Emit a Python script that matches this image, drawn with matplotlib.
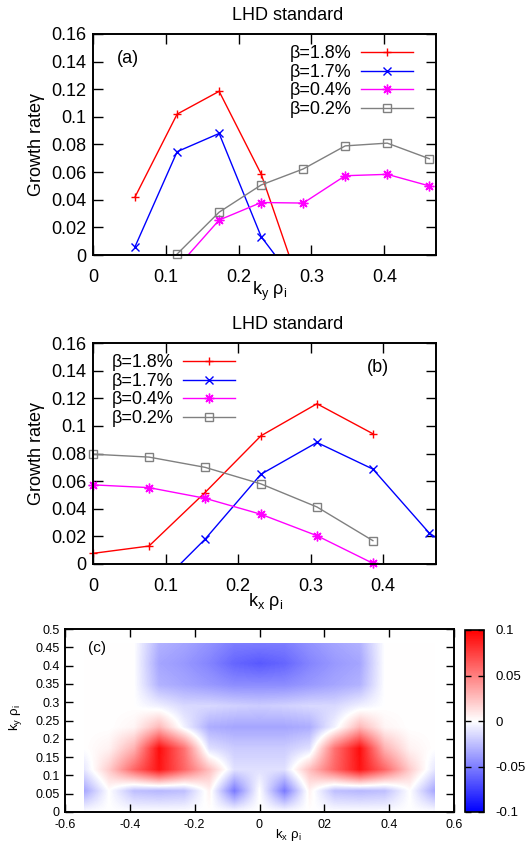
import numpy as np
import matplotlib
matplotlib.use("Agg")
import matplotlib.pyplot as plt
from matplotlib.patches import Rectangle

plt.rcParams["font.family"] = ["Liberation Sans", "DejaVu Sans"]
plt.rcParams["mathtext.fontset"] = "custom"
plt.rcParams["mathtext.rm"] = "Liberation Sans"

nan = np.nan

# ---- panel (a): growth rate vs ky rho_i ----
ky_a = [0.0577, 0.1155, 0.1732, 0.2309, 0.2887, 0.3464, 0.4041, 0.4619]
a_18 = [0.042, 0.102, 0.1185, 0.0586, -0.030, nan, nan, nan]
a_17 = [0.006, 0.0748, 0.088, 0.0133, -0.027, nan, nan, nan]
a_04 = [nan, -0.009, 0.0253, 0.038, 0.0376, 0.0574, 0.0584, 0.050]
a_02 = [nan, 0.0007, 0.031, 0.0507, 0.0623, 0.079, 0.081, 0.0697]

# ---- panel (b): growth rate vs kx rho_i ----
kx_b = [0.0, 0.0772, 0.1544, 0.2316, 0.3088, 0.386, 0.4632, 0.5404]
b_18 = [0.0077, 0.013, 0.0517, 0.0928, 0.116, 0.0943, nan, nan]
b_17 = [nan, -0.0226, 0.0179, 0.065, 0.088, 0.0687, 0.0227, -0.006]
b_04 = [0.0573, 0.0553, 0.0476, 0.036, 0.0205, 0.0005, nan, nan]
b_02 = [0.0795, 0.0774, 0.070, 0.058, 0.0413, 0.0169, nan, nan]

labels = ["β=1.8%", "β=1.7%", "β=0.4%", "β=0.2%"]
colors = ["#ff0000", "#0000ff", "#ff00ff", "#808080"]
markers = ["+", "x", (8, 2, 0), "s"]
msizes = [6, 6, 7, 6]

# ---- panel (c): growth-rate map, kx >= 0 half (map is symmetric in kx) ----
kx_c = [0.0, 0.0772, 0.1544, 0.2316, 0.3088, 0.386, 0.4632, 0.5404]
ky_c = [0.0, 0.0577, 0.1155, 0.1732, 0.2309, 0.2887, 0.3464, 0.4041, 0.4619]
z_half = [
    [0.0, 0.0, 0.0, 0.0, 0.0, 0.0, 0.0, 0.0],
    [0.0, -0.052, 0.005, -0.025, -0.028, -0.025, 0.0, -0.035],
    [-0.012, -0.012, 0.025, 0.06, 0.092, 0.06, 0.02, -0.01],
    [-0.02, -0.02, -0.012, 0.055, 0.095, 0.03, 0.005, 0.0],
    [-0.035, -0.035, -0.032, -0.005, 0.028, 0.004, 0.0, 0.0],
    [-0.02, -0.018, -0.015, -0.015, -0.006, 0.0, 0.0, 0.0],
    [-0.045, -0.045, -0.04, -0.035, -0.03, 0.0, 0.0, 0.0],
    [-0.065, -0.06, -0.048, -0.04, -0.035, 0.0, 0.0, 0.0],
    [-0.05, -0.05, -0.042, -0.035, -0.03, 0.0, 0.0, 0.0],
]

W, H = 527, 848
fig = plt.figure(figsize=(W / 100, H / 100), dpi=100)


def px_axes(x0, y0, x1, y1):
    return fig.add_axes([x0 / W, 1 - y1 / H, (x1 - x0) / W, (y1 - y0) / H])


def style_axes(ax, size, pad_x, pad_y):
    for s in ax.spines.values():
        s.set_linewidth(1.4)
    ax.tick_params(direction="in", top=True, right=True, length=7, width=1.0,
                   labelsize=size)
    ax.tick_params(axis="x", pad=pad_x)
    ax.tick_params(axis="y", pad=pad_y)


def growth_panel(ax, xs, series, xmax, tag, tag_xy, leg_anchor):
    xs = np.asarray(xs)
    handles = []
    for ys, lab, c, m, ms in zip(series, labels, colors, markers, msizes):
        ys = np.asarray(ys, dtype=float)
        ax.plot(xs, ys, color=c, lw=1.0)
        keep = (ys >= 0) & (xs <= xmax)
        ax.plot(xs[keep], ys[keep], ls="none", marker=m, ms=ms, mew=1.0,
                color=c, mfc="none", clip_on=False)
        h, = ax.plot([], [], color=c, lw=1.0, marker=m, ms=ms, mew=1.0, mfc="none")
        handles.append(h)
    ax.set_xlim(0, xmax)
    ax.set_ylim(0, 0.16)
    ax.set_xticks([0, 0.1, 0.2, 0.3, 0.4], ["0", "0.1", "0.2", "0.3", "0.4"])
    ax.set_yticks(np.arange(9) * 0.02,
                  ["0", "0.02", "0.04", "0.06", "0.08", "0.1", "0.12", "0.14", "0.16"])
    style_axes(ax, 13, 10, 5)
    ax.set_ylabel("Growth rateγ", fontsize=13, labelpad=4)
    ax.text(tag_xy[0], tag_xy[1], tag, transform=ax.transAxes, fontsize=13,
            ha="center", va="center")
    ax.legend(handles, labels, loc="upper right", bbox_to_anchor=leg_anchor,
              markerfirst=False, frameon=False, fontsize=13, handlelength=2.9,
              handletextpad=0.5, labelspacing=0.08, borderpad=0, borderaxespad=0)


ax_a = px_axes(93, 34, 436, 255)
growth_panel(ax_a, ky_a, [a_18, a_17, a_04, a_02], 0.471, "(a)",
             (0.102, 0.891), (0.933, 0.948))
fig.text(288 / W, 1 - 16 / H, "LHD standard", ha="center", va="center", fontsize=13)
fig.text(270 / W, 1 - 291 / H, r"k$_\mathregular{y}$ ρ$_\mathregular{i}$",
         ha="center", va="center", fontsize=13)

ax_b = px_axes(93, 343, 436, 564)
growth_panel(ax_b, kx_b, [b_18, b_17, b_04, b_02], 0.473, "(b)",
             (0.831, 0.891), (0.414, 0.948))
fig.text(288 / W, 1 - 325 / H, "LHD standard", ha="center", va="center", fontsize=13)
fig.text(266 / W, 1 - 602 / H, r"k$_\mathregular{x}$ ρ$_\mathregular{i}$",
         ha="center", va="center", fontsize=13)

# ---- panel (c) ----
kx_full = np.concatenate([-np.asarray(kx_c)[:0:-1], kx_c])
z_half = np.asarray(z_half)
z_full = np.hstack([z_half[:, :0:-1], z_half])
dx = kx_c[1] - kx_c[0]
dy = ky_c[1] - ky_c[0]

ax_c = px_axes(65, 629, 454, 812)
img = ax_c.imshow(z_full, origin="lower", cmap="bwr", vmin=-0.1, vmax=0.1,
                  interpolation="bilinear", aspect="auto",
                  extent=[kx_full[0] - dx / 2, kx_full[-1] + dx / 2,
                          ky_c[0] - dy / 2, ky_c[-1] + dy / 2])
clip = Rectangle((kx_full[0], ky_c[0]), kx_full[-1] - kx_full[0],
                 ky_c[-1] - ky_c[0], transform=ax_c.transData)
img.set_clip_path(clip)
ax_c.set_xlim(-0.6, 0.6)
ax_c.set_ylim(0, 0.5)
ax_c.set_xticks([-0.6, -0.4, -0.2, 0, 0.2, 0.4, 0.6],
                ["-0.6", "-0.4", "-0.2", "0", "02", "0.4", "0.6"])
ax_c.set_yticks(np.arange(11) * 0.05,
                ["0", "0.05", "0.1", "0.15", "0.2", "0.25", "0.3", "0.35", "0.4",
                 "0.45", "0.5"])
style_axes(ax_c, 9, 5, 4)
ax_c.tick_params(length=6)
ax_c.text(0.082, 0.896, "(c)", transform=ax_c.transAxes, fontsize=11,
          ha="center", va="center")
fig.text(15 / W, 1 - 718 / H, r"k$_\mathregular{y}$ ρ$_\mathregular{i}$",
         rotation=90, ha="center", va="center", fontsize=9.5)
fig.text(288 / W, 1 - 835 / H, r"k$_\mathregular{x}$ ρ$_\mathregular{i}$",
         ha="center", va="center", fontsize=9.5)

cax = px_axes(465, 630, 484, 812)
cb = fig.colorbar(img, cax=cax, ticks=[-0.1, -0.05, 0, 0.05, 0.1])
cb.ax.set_yticklabels(["-0.1", "-0.05", "0", "0.05", "0.1"])
cb.outline.set_linewidth(1.2)
cax.tick_params(direction="in", left=True, right=True, length=4, width=1.0,
                labelsize=9.5, pad=8)

fig.savefig("out.png", dpi=100)
